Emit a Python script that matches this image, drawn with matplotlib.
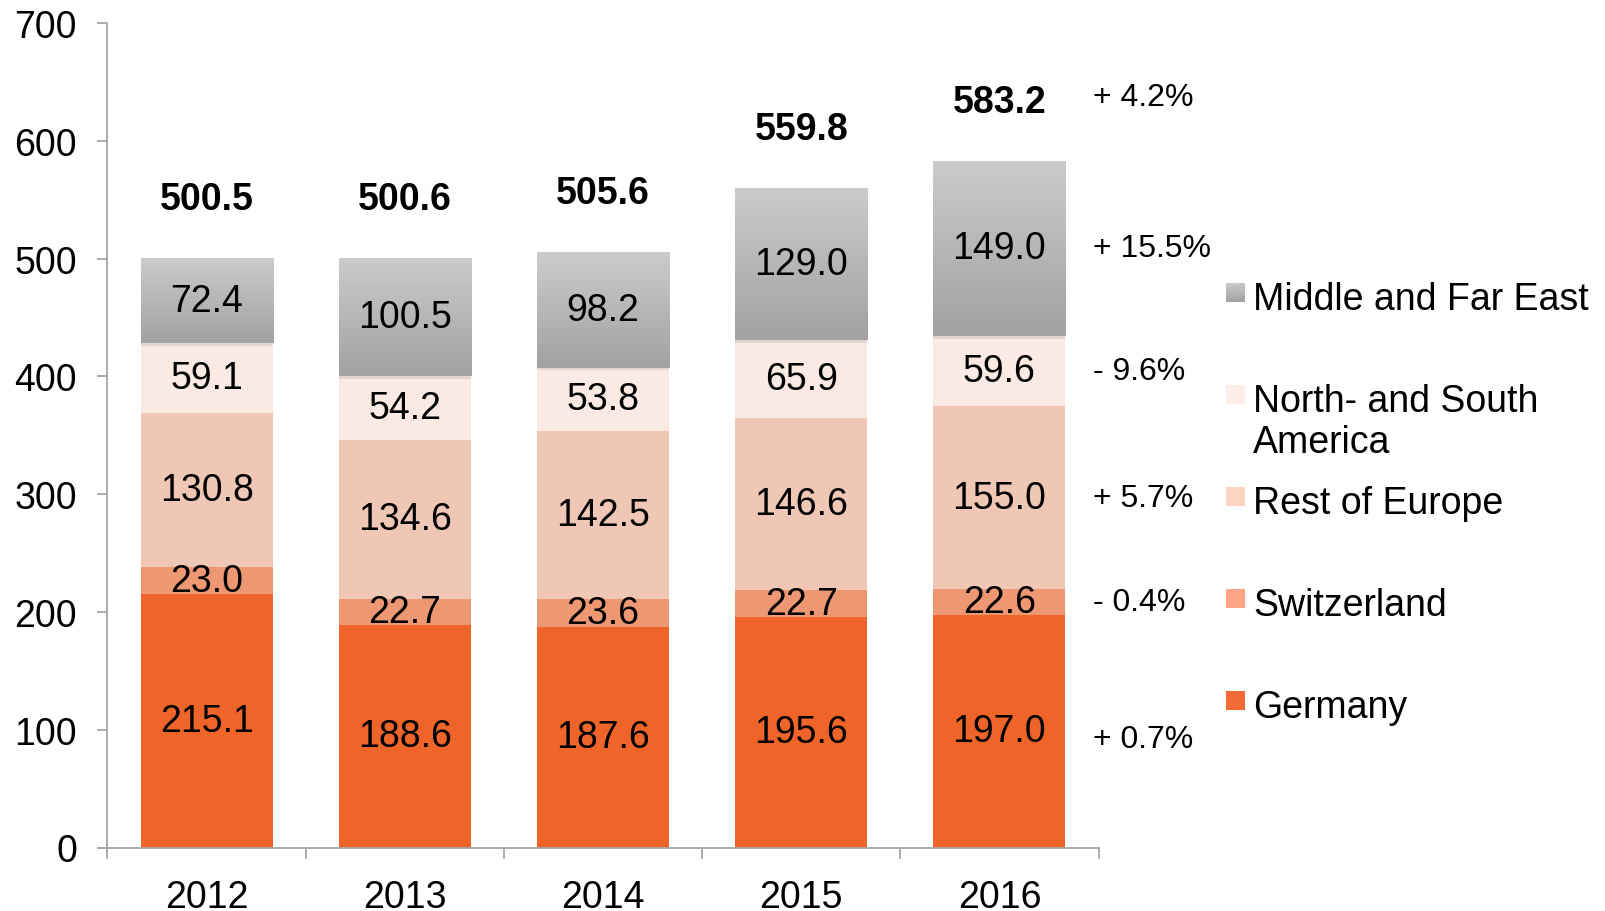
import matplotlib
matplotlib.use('Agg')
import matplotlib.pyplot as plt
import matplotlib.patheffects as pe
from matplotlib.patches import Rectangle
from matplotlib.colors import LinearSegmentedColormap
import numpy as np

plt.rcParams['font.family'] = ['Liberation Sans', 'DejaVu Sans']

# ---- data ----
years = ['2012', '2013', '2014', '2015', '2016']
germany = [215.1, 188.6, 187.6, 195.6, 197.0]
switzerland = [23.0, 22.7, 23.6, 22.7, 22.6]
rest_of_europe = [130.8, 134.6, 142.5, 146.6, 155.0]
americas = [59.1, 54.2, 53.8, 65.9, 59.6]
middle_far_east = [72.4, 100.5, 98.2, 129.0, 149.0]
totals = [500.5, 500.6, 505.6, 559.8, 583.2]
growth_labels = ['+ 0.7%', '- 0.4%', '+ 5.7%', '- 9.6%', '+ 15.5%']
total_growth = '+ 4.2%'
legend_names = ['Middle and Far East', 'North- and South\nAmerica',
                'Rest of Europe', 'Switzerland', 'Germany']

# ---- styles ----
bar_colors = ['#EF6529', '#EE9873', '#F0C7B5', '#FBEAE4', '#B5B5B5']
legend_colors = ['#B0B0B0', '#FDEDE9', '#FDD4C4', '#FFA585', '#F26B36']
gray_cmap = LinearSegmentedColormap.from_list('g', ['#A2A2A2', '#CBCBCB'])

W, H = 1605, 912
fig = plt.figure(figsize=(W / 100, H / 100), dpi=100)
ax = fig.add_axes([107.5 / W, 1 - 848.5 / H, (1098.5 - 107.5) / W, (848.5 - 24) / H])

x = np.arange(len(years))
width = 0.667
series = [germany, switzerland, rest_of_europe, americas, middle_far_east]
bottom = np.zeros(len(years))
for i, vals in enumerate(series):
    vals = np.array(vals)
    bars = ax.bar(x, vals, width, bottom=bottom, color=bar_colors[i], zorder=2)
    if i == 4:
        for b in bars:
            b.set_path_effects([pe.SimplePatchShadow(offset=(0, -2), shadow_rgbFace='#999999', alpha=0.25),
                                pe.Normal()])
            x0, y0 = b.get_x(), b.get_y()
            im = ax.imshow(np.linspace(0, 1, 100).reshape(-1, 1), cmap=gray_cmap,
                           extent=[x0, x0 + b.get_width(), y0, y0 + b.get_height()],
                           origin='lower', aspect='auto', zorder=2.5)
            im.set_clip_path(b)
    for xi, v, bt in zip(x, vals, bottom):
        ax.text(xi, bt + v / 2, f'{v:.1f}', ha='center', va='center', fontsize=27, zorder=5)
    bottom = bottom + vals

# totals
for xi, t in zip(x, totals):
    ax.text(xi, t + 50, f'{t:.1f}', ha='center', va='center', fontsize=27,
            fontweight='bold', zorder=5)

# growth labels next to last bar (segment centers of last year)
last_bottom = 0.0
for i, vals in enumerate(series):
    ax.text(4.47, last_bottom + vals[-1] / 2 - (6 if i == 0 else 0), growth_labels[i],
            ha='left', va='center', fontsize=23, clip_on=False)
    last_bottom += vals[-1]
ax.text(4.47, totals[-1] + 54, total_growth, ha='left', va='center', fontsize=23, clip_on=False)

ax.set_xlim(-0.5, 4.5)
ax.set_ylim(0, 700)
ax.set_yticks(range(0, 701, 100))
ax.set_xticks(x)
ax.set_xticklabels(years)
ax.set_xticks(np.arange(-0.5, 4.6, 1), minor=True)
ax.tick_params(axis='x', which='major', length=0, pad=23, labelsize=27)
ax.tick_params(axis='x', which='minor', length=8, width=1.3, color='#A6A6A6', direction='out')
ax.tick_params(axis='y', length=7, width=1.3, color='#A6A6A6', pad=15, labelsize=27)
for s in ['top', 'right']:
    ax.spines[s].set_visible(False)
for s in ['left', 'bottom']:
    ax.spines[s].set_color('#A6A6A6')
    ax.spines[s].set_linewidth(1.3)

# legend (manual)
sq = 19
lx, tx = 1226, 1253
rows = [(284, [310]), (386, [412, 453]), (488, [514]), (590, [616]), (692, [718])]
for (top, baselines), name, col in zip(rows, legend_names, legend_colors):
    if col == legend_colors[0]:
        lax = fig.add_axes([lx / W, 1 - (top + sq) / H, sq / W, sq / H])
        lax.imshow(np.linspace(0, 1, 50).reshape(-1, 1), cmap=gray_cmap, origin='lower', aspect='auto')
        lax.axis('off')
    else:
        fig.patches.append(Rectangle((lx / W, 1 - (top + sq) / H), sq / W, sq / H,
                                     transform=fig.transFigure, facecolor=col, edgecolor='none'))
    for line, bl in zip(name.split('\n'), baselines):
        fig.text(tx / W, 1 - bl / H, line, ha='left', va='baseline', fontsize=27)

fig.savefig('out.png', dpi=100)
